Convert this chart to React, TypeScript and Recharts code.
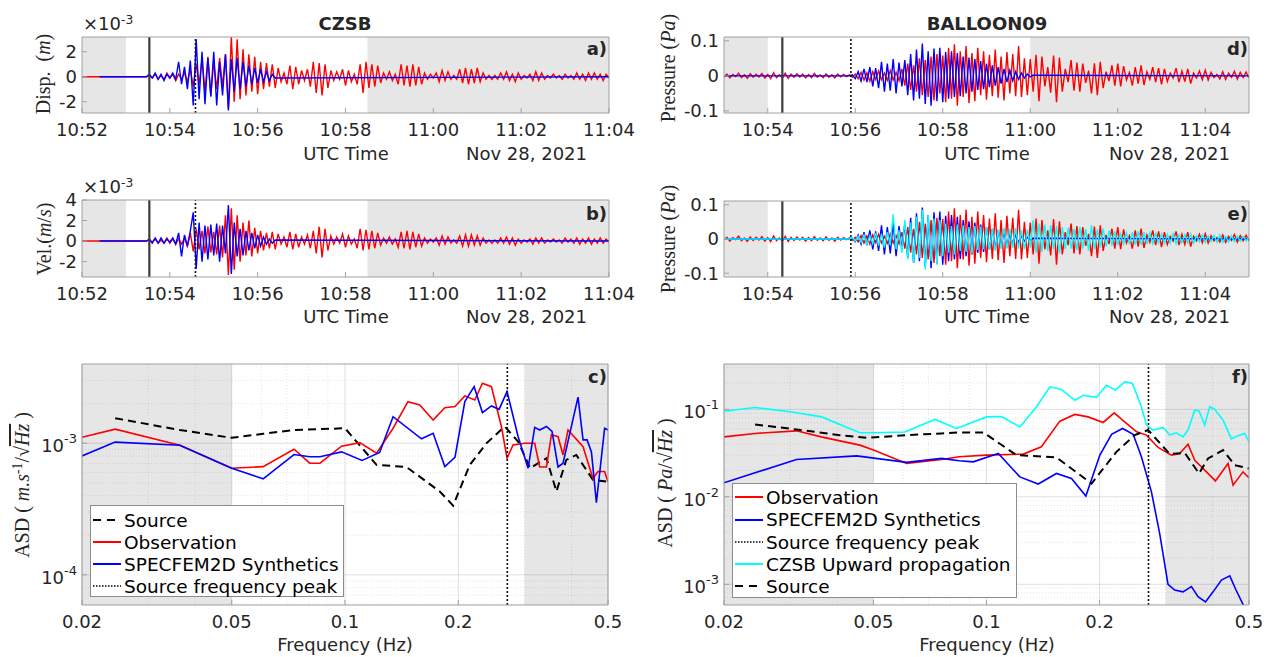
import React from "react";
import { LineChart, Line, XAxis, YAxis, ReferenceArea, ReferenceLine } from "recharts";

const SANS = "DejaVu Sans";
const SERIF = "Liberation Serif";
const INK = "#262626";
const EDGE = "#a0a0a0";
const SHADE = "#e6e6e6";
const RED = "#ff0000";
const BLUE = "#0000ff";
const CYAN = "#00ffff";

// ---------- waveforms: seconds after 10:52:00 UTC, one sample every 4 s ----------
const STEP = 4;

// CZSB displacement, units of 1e-4 m, first sample at t = 88 s
const czsbDispObs = [
  0, 1, -1, 2, -2, 1, -2, 3, -1, 2, -3, 2, -2, 3,
  -4, 6, -8, 10, -6,
  14, -12, 16, -15, 12, -10, 15, -8, 18,
  -25, 32, -20, 30, -18,
  22, -15, 18, -12, 16, -14, 12, -10, 11,
  -8, 10, -9, 7, -4, 3, -6, 9, -10, 8, -6,
  5, -3, 6, -8, 12, -13, 11, -15, 10, -9, 5,
  -3, 4, -2, 6, -7, 5, -4, 2, -6, 10, -13,
  12, -9, 10, -8, 9, -5, 3, -2, 4, -3, 2,
  -6, 10, -7, 9, -8, 10, -7, 8, -6, 3, -2,
  2, -1, 3, -4, 5, -3, 4, -2, 1, -2, 6,
  -5, 7, -6, 6, -5, 7, -4, 3, -2, 1, -2,
  1, -2, 3, -2, 4, -3, 2, -4, 3, -2, 1,
  -1, 2, -3, 4, -3, 3, -2, 1, -1, 2, -1,
  1, -2, 2, -1, 1, -2, 3, -2, 2, -3, 3,
  -2, 3, -2, 2, -3, 2, -1,
];
const czsbDispSyn = [
  0, 2, -1, 3, -2, 2, -3, 2, -1, 3, -2,
  12, -6, 8, -10, 13, -23,
  30, -18, 20, -22, 15, -16, 20, -23, 12, -15, 18,
  -27, 14, -12, 15, -10, 12, -8, 9, -6, 7, -5,
  6, -4, 4, -3, 2, -1,
];

// CZSB velocity, units of 1e-4 m/s, first sample at t = 88 s
const czsbVelObs = [
  0, 1, -1, 2, -2, 1, -2, 3, -2, 2, -3, 2, -3, 3,
  -5, 8, -10, 12, -8,
  10, -12, 14, -11, 9, -13, 15, -16, 25,
  -33, 32, -28, 25, -20,
  18, -14, 20, -15, 13, -12, 10, -9, 8,
  -7, 9, -8, 7, -3, 4, -6, 9, -8, 7, -6,
  4, -3, 6, -7, 10, -12, 14, -16, 12, -9, 5,
  -3, 4, -2, 7, -6, 5, -3, 2, -7, 12, -9,
  11, -8, 10, -7, 8, -4, 3, -2, 4, -3, 2,
  -6, 9, -7, 10, -8, 9, -6, 7, -5, 3, -2,
  2, -1, 3, -4, 5, -3, 4, -2, 1, -2, 5,
  -5, 6, -5, 6, -4, 5, -4, 3, -2, 1, -2,
  1, -2, 3, -2, 4, -3, 3, -4, 2, -2, 1,
  -1, 2, -3, 3, -2, 3, -2, 1, -1, 2, -1,
  1, -2, 3, -1, 2, -2, 3, -3, 2, -2, 3,
  -3, 2, -2, 3, -2, 2, -1,
];
const czsbVelSyn = [
  0, 2, -2, 3, -2, 3, -2, 2, -1, 3, -3,
  8, -15, 6, -5, 10, 28,
  -27, 18, -20, 15, -18, 16, -14, 17, -20, 15, -12,
  35, -32, 18, -15, 12, -14, 10, -9, 8, -7, 6,
  -5, 4, -3, 2, -2, 1,
];

// BALLOON09 pressure, units of 1e-3 Pa
const balloonObs = [ // from t = 60 s
  -3, 5, -6, 4, -2, 8, -5, 3, -7, 6, -4, 5, -3, 7, -6, 4, -8, 9, -5, 3, -6, 8, -7,
  5, -4, 6, -3, 5, -6, 4, -5, 7, -4, 3, -5, 6, -4, 3, -6, 5, -3, 4, -2, 3, -4,
  5, -8, 10, -12, 9, -15, 12, -10, 14, -11, 8, -13, 15, -12, 10, -14,
  20, -28, 35, -40, 30, -45, 50, -55, 45, -60, 55, -70, 62, -50, 58,
  -75, 80, -65, 90, -85, 70, -60, 85, -78, 65, -72, 80, -55, 70, -68,
  60, -58, 75, -62, 55, -70, 68, -50, 62, -58, 85, -60, 50, -55, 48,
  -45, 60, -72, 55, -30, 25, -48, 58, -75, 52, -45, 20, -18, 45, -42,
  38, -45, 35, -20, 15, -50, 36, -55, 40, -35, 12, -15, 30, -28, 35,
  -30, 28, -12, 10, -28, 25, -22, 30, -26, 12, -10, 25, -18, 22, -24,
  20, -16, 8, -6, 22, -18, 14, -16, 20, -22, 8, -6, 14, -11, 16,
  -12, 10, -5, 4, -9, 12, -10, 8, -4, 13, -9, 10, -5, 11, -6,
];
const balloonSyn = [ // from t = 232 s
  0, 3, -8, 12, -15, 20, -18, 25, -30, 22, -35, 40, -45, 35, -42, 48, -50, 38,
  -30, 45, -55, 62, -70, 75, -65, 92, -80, 70, -85, 78, -72, 80, -75,
  68, -65, 70, -60, 65, -58, 55, -50, 52, -45, 48, -40, 42, -38, 35,
  -32, 30, -28, 25, -22, 20, -18, 16, -14, 12, -10, 8, -6, 5, -3, 2,
];
const balloonUp = [ // CZSB upward propagation, from t = 232 s
  0, 4, -6, 8, -10, 12, -15, 10, -14, 18, -20, 15, -25, 20, -18, 72, -30, 25,
  -40, 55, -60, 48, -70, 65, -55, 85, -90, 70, -65, 60, -75, 55, -50,
  45, -40, 38, -45, 42, -35, 40, -38, 35, -42, 38, -32, 36, -30, 34,
  -32, 30, -35, 28, -30, 33, -28, 30, -26, 32, -28, 25, -30, 28, -25,
  55, -40, 45, -38, 42, -35, 40, -30, 38, -42, 35, -30, 33, -28, 30,
  -32, 35, -28, 30, -35, 40, -30, 28, -25, 30, -22, 25, -20, 22, -18,
  15, -14, 18, -15, 20, -16, 22, -18, 20, -15, 18, -14, 16, -12, 15,
  -13, 14, -12, 16, -14, 12, -10, 13, -11, 15, -12, 10, -9, 12, -10,
  9, -8, 11, -9, 12, -10, 8, -9, 10, -8, 9, -7, 8, -6, 7,
];

// ---------- amplitude spectral densities ----------
const czsbObsF = [0.02, 0.0245, 0.0364, 0.05, 0.0606, 0.0732, 0.0806, 0.0858, 0.0979, 0.1095, 0.1213, 0.1342, 0.147, 0.158, 0.1715, 0.1842, 0.196, 0.2082, 0.2213, 0.2319, 0.245, 0.2604, 0.2696, 0.2797, 0.3004, 0.3193, 0.3292, 0.3431, 0.3537, 0.3683, 0.3797, 0.3915, 0.4292, 0.456, 0.4703, 0.4898, 0.5];
const czsbObsA = [1.11e-3, 1.28e-3, 0.966e-3, 6.46e-4, 6.64e-4, 9.0e-4, 7.05e-4, 7.05e-4, 9.5e-4, 1.01e-3, 8.4e-4, 1.3e-3, 2.07e-3, 1.95e-3, 1.5e-3, 1.86e-3, 1.9e-3, 2.29e-3, 2.13e-3, 2.86e-3, 2.69e-3, 1.34e-3, 7.7e-4, 9.7e-4, 1.0e-3, 1.0e-3, 6.6e-4, 6.6e-4, 1.16e-3, 1.12e-3, 8.15e-4, 1.26e-3, 9.4e-4, 5.4e-4, 6.1e-4, 6.1e-4, 5.1e-4];
const czsbSynF = [0.02, 0.0245, 0.0364, 0.05, 0.0606, 0.0732, 0.0806, 0.0858, 0.0979, 0.111, 0.1236, 0.1342, 0.1597, 0.1715, 0.1842, 0.196, 0.2082, 0.2204, 0.2319, 0.245, 0.2567, 0.2696, 0.2885, 0.3067, 0.3193, 0.3292, 0.3431, 0.355, 0.3683, 0.3797, 0.4162, 0.4292, 0.4399, 0.4518, 0.4657, 0.4898, 0.5];
const czsbSynA = [8.0e-4, 1.02e-3, 9.66e-4, 6.46e-4, 5.36e-4, 8.2e-4, 7.9e-4, 7.9e-4, 8.6e-4, 7.4e-4, 8.5e-4, 1.59e-3, 1.08e-3, 1.19e-3, 6.64e-4, 7.8e-4, 2.07e-3, 2.69e-3, 1.71e-3, 1.92e-3, 1.81e-3, 2.47e-3, 1.12e-3, 6.46e-4, 1.32e-3, 1.26e-3, 1.34e-3, 1.23e-3, 6.6e-4, 7.05e-4, 2.24e-3, 1.06e-3, 1.06e-3, 8.6e-4, 3.54e-4, 1.3e-3, 1.26e-3];
const czsbSrcF = [0.0245, 0.0364, 0.05, 0.0606, 0.0732, 0.0858, 0.1, 0.1213, 0.1457, 0.1786, 0.1938, 0.2146, 0.2377, 0.2659, 0.2885, 0.3105, 0.3431, 0.3647, 0.3873, 0.4119, 0.456, 0.5];
const czsbSrcA = [1.55e-3, 1.26e-3, 1.1e-3, 1.18e-3, 1.26e-3, 1.28e-3, 1.3e-3, 6.85e-4, 6.6e-4, 4.3e-4, 3.36e-4, 6.85e-4, 1.0e-3, 1.34e-3, 1.03e-3, 6.46e-4, 7.7e-4, 4.3e-4, 7.47e-4, 8.15e-4, 5.27e-4, 5.1e-4];

const balObsF = [0.02, 0.0242, 0.0312, 0.0363, 0.046, 0.05, 0.0613, 0.0759, 0.0846, 0.1, 0.1253, 0.14, 0.1568, 0.1719, 0.1865, 0.2045, 0.2188, 0.2333, 0.251, 0.2667, 0.2864, 0.3107, 0.3269, 0.3441, 0.3585, 0.3852, 0.407, 0.4398, 0.4535, 0.482, 0.5];
const balObsA = [0.0485, 0.053, 0.0568, 0.0485, 0.039, 0.0342, 0.0241, 0.0267, 0.0287, 0.03, 0.0308, 0.0373, 0.0733, 0.0875, 0.082, 0.0708, 0.0912, 0.072, 0.0553, 0.0508, 0.0367, 0.03, 0.0313, 0.04, 0.0262, 0.0193, 0.0152, 0.0241, 0.0136, 0.0193, 0.0165];
const balSynF = [0.02, 0.0312, 0.0451, 0.0613, 0.0759, 0.0846, 0.0922, 0.1075, 0.1227, 0.1373, 0.1536, 0.1684, 0.1839, 0.2004, 0.2153, 0.2303, 0.2458, 0.2585, 0.2749, 0.2892, 0.3043, 0.317, 0.3335, 0.3513, 0.3658, 0.383, 0.4011, 0.4223, 0.4444, 0.4618, 0.4819, 0.5];
const balSynA = [0.0145, 0.0267, 0.0294, 0.0248, 0.0275, 0.0258, 0.0251, 0.0313, 0.0169, 0.014, 0.0185, 0.0162, 0.0102, 0.03, 0.0517, 0.0605, 0.052, 0.0287, 0.0114, 0.0038, 0.001, 0.00086, 0.00082, 0.00094, 0.00072, 0.00063, 0.00082, 0.00112, 0.00125, 0.00086, 0.00059, 0.00042];
const balUpF = [0.02, 0.0242, 0.03, 0.0364, 0.046, 0.05, 0.0606, 0.0729, 0.0832, 0.1, 0.1097, 0.1227, 0.1359, 0.1475, 0.1584, 0.1719, 0.181, 0.1962, 0.2086, 0.2205, 0.2333, 0.2447, 0.2585, 0.2667, 0.2777, 0.2953, 0.3076, 0.3203, 0.3335, 0.3441, 0.3585, 0.3681, 0.3812, 0.393, 0.4053, 0.4265, 0.4489, 0.4675, 0.487, 0.5];
const balUpA = [0.095, 0.105, 0.094, 0.082, 0.054, 0.054, 0.055, 0.0767, 0.0605, 0.082, 0.083, 0.063, 0.107, 0.181, 0.169, 0.127, 0.145, 0.137, 0.189, 0.166, 0.206, 0.198, 0.107, 0.066, 0.058, 0.062, 0.051, 0.054, 0.0485, 0.058, 0.098, 0.096, 0.066, 0.107, 0.1, 0.075, 0.046, 0.05, 0.053, 0.0425];
const balSrcF = [0.0242, 0.0312, 0.0407, 0.048, 0.0613, 0.0759, 0.0846, 0.098, 0.1202, 0.1536, 0.1905, 0.2218, 0.2482, 0.2694, 0.3076, 0.3372, 0.3681, 0.389, 0.4265, 0.458, 0.5];
const balSrcA = [0.0672, 0.0589, 0.0507, 0.0472, 0.0507, 0.053, 0.0545, 0.0545, 0.03, 0.0282, 0.0142, 0.0327, 0.0508, 0.058, 0.0308, 0.0318, 0.0185, 0.0275, 0.0342, 0.023, 0.0211];

// ---------- axes ----------
const CZSB_TICKS = [0, 120, 240, 360, 480, 600, 720];
const BAL_TICKS = [120, 240, 360, 480, 600, 720];
const FREQ_TICKS = [0.02, 0.05, 0.1, 0.2, 0.5];
const FREQ_MINOR = [0.03, 0.04, 0.06, 0.07, 0.08, 0.09, 0.3, 0.4];
const C_MINOR = [6e-5, 7e-5, 8e-5, 9e-5, 2e-4, 3e-4, 4e-4, 5e-4, 6e-4, 7e-4, 8e-4, 9e-4, 2e-3, 3e-3];
const F_MINOR = [6e-4, 7e-4, 8e-4, 9e-4, 2e-3, 3e-3, 4e-3, 5e-3, 6e-3, 7e-3, 8e-3, 9e-3, 0.02, 0.03, 0.04, 0.05, 0.06, 0.07, 0.08, 0.09, 0.2, 0.3];

const clock = (s: number) => {
  const m = 52 + s / 60;
  return `${10 + Math.floor(m / 60)}:${String(m % 60).padStart(2, "0")}`;
};

const wave = (start: number, vals: number[], unit: number, lead?: number, tail?: number) => {
  const pts = vals.map((v, i) => ({ t: start + i * STEP, v: v * unit }));
  if (lead !== undefined) pts.unshift({ t: lead, v: 0 });
  if (tail !== undefined) pts.push({ t: tail, v: 0 });
  return pts;
};
const spec = (f: number[], a: number[]) => f.map((x, i) => ({ f: x, v: a[i] }));

const TICK = { fontSize: 18, fill: INK, fontFamily: SANS };
const YW = 80, MT = 10, MR = 30, XH = 60;

type Box = { x: number; y: number; w: number; h: number };
type Ax = { key?: string; log?: boolean; domain: [number, number]; ticks: number[]; fmt?: (v: number) => string; tick?: any };

function PowTick(props: any) {
  const { x, y, payload } = props;
  const e = Math.round(Math.log10(payload.value));
  return (
    <text x={x} y={y} dy={9} textAnchor="end" fill={INK} fontFamily={SANS} fontSize={18}>
      10<tspan dy={-9} fontSize={13}>{e}</tspan>
    </text>
  );
}

function Frame({ box, xa, ya, children }: { box: Box; xa: Ax; ya: Ax; children?: React.ReactNode }) {
  const xs = xa.log ? "log" : "linear";
  const ys = ya.log ? "log" : "linear";
  return (
    <div style={{ position: "absolute", left: box.x - YW, top: box.y - MT }}>
      <LineChart width={YW + box.w + MR} height={MT + box.h + XH} margin={{ top: MT - 1, right: MR - 1, bottom: 0, left: 0 }}>
        <XAxis dataKey={xa.key} type="number" scale={xs} domain={xa.domain} allowDataOverflow ticks={xa.ticks} interval={0}
          tickFormatter={xa.fmt} tick={TICK} tickSize={-5} tickMargin={15} height={XH} stroke={EDGE} />
        <XAxis xAxisId="top" orientation="top" dataKey={xa.key} type="number" scale={xs} domain={xa.domain} allowDataOverflow
          ticks={xa.ticks} interval={0} tick={false} tickSize={-5} height={1} stroke={EDGE} />
        <YAxis type="number" scale={ys} domain={ya.domain} allowDataOverflow ticks={ya.ticks} interval={0}
          tickFormatter={ya.fmt} tick={ya.tick ?? TICK} tickSize={-5} tickMargin={10} width={YW} stroke={EDGE} />
        <YAxis yAxisId="right" orientation="right" type="number" scale={ys} domain={ya.domain} allowDataOverflow
          ticks={ya.ticks} interval={0} tick={false} tickSize={-5} width={1} stroke={EDGE} />
        {children}
      </LineChart>
    </div>
  );
}

const trace = (data: any[], color: string, key: string, w = 1.4) => (
  <Line key={key} data={data} dataKey="v" stroke={color} strokeWidth={w} dot={false} activeDot={false} isAnimationActive={false} />
);
const shade = (a: number, b: number) => (
  <ReferenceArea key={`s${a}`} x1={a} x2={b} fill={SHADE} fillOpacity={1} stroke="none" />
);
const eventLine = (x: number) => <ReferenceLine key={`e${x}`} x={x} stroke="#3c3c3c" strokeWidth={2.2} />;
const peakLine = (x: number) => <ReferenceLine key={`p${x}`} x={x} stroke="#111" strokeWidth={1.6} strokeDasharray="2 2" />;
const grid = (xs: number[], ys: number[], major: boolean) => [
  ...xs.map((v) => <ReferenceLine key={`gx${v}${major}`} x={v} stroke={INK} strokeOpacity={major ? 0.14 : 0.12} strokeDasharray={major ? undefined : "1 2"} />),
  ...ys.map((v) => <ReferenceLine key={`gy${v}${major}`} y={v} stroke={INK} strokeOpacity={major ? 0.14 : 0.12} strokeDasharray={major ? undefined : "1 2"} />),
];

function T({ x, y, a = "c", s = 18, bold, serif, rot, color = INK, children }: any) {
  const tx = a === "c" ? "-50%" : a === "r" ? "-100%" : "0";
  return (
    <div style={{
      position: "absolute", left: x, top: y, whiteSpace: "nowrap", lineHeight: 1,
      transform: `translate(${tx},-50%)${rot ? " rotate(-90deg)" : ""}`,
      fontFamily: serif ? SERIF : SANS, fontSize: s, fontWeight: bold ? "bold" : "normal", color,
    }}>{children}</div>
  );
}
const Sup = ({ children }: any) => <span style={{ fontSize: "0.68em", position: "relative", top: "-0.5em" }}>{children}</span>;
const SqrtHz = () => <span>√<span style={{ textDecoration: "overline" }}><i>Hz</i></span></span>;

type Item = { label: string; color: string; dash?: string; w?: number; cy: number };
function LegendBox({ x, y, w, h, items }: { x: number; y: number; w: number; h: number; items: Item[] }) {
  return (
    <div style={{ position: "absolute", left: x, top: y, width: w, height: h, background: "#fff", border: "1px solid #8c8c8c", boxSizing: "border-box", fontFamily: SANS, fontSize: 18.5, color: "#000" }}>
      {items.map((it) => (
        <div key={it.label} style={{ position: "absolute", left: 2, top: it.cy - 11, height: 22, display: "flex", alignItems: "center", whiteSpace: "nowrap" }}>
          <svg width={28} height={6}><line x1={0} y1={3} x2={28} y2={3} stroke={it.color} strokeWidth={it.w ?? 2} strokeDasharray={it.dash} /></svg>
          <span style={{ marginLeft: 3 }}>{it.label}</span>
        </div>
      ))}
    </div>
  );
}

export default function App() {
  const aObs = wave(88, czsbDispObs, 0.1, 0);
  const aSyn = wave(88, czsbDispSyn, 0.1, 24, 720);
  const bObs = wave(88, czsbVelObs, 0.1, 0);
  const bSyn = wave(88, czsbVelSyn, 0.1, 24, 720);
  const dObs = wave(60, balloonObs, 0.001);
  const dSyn = wave(232, balloonSyn, 0.001, 60, 780);
  const eUp = wave(232, balloonUp, 0.001, 60);

  const czsbX: Ax = { key: "t", domain: [0, 720], ticks: CZSB_TICKS, fmt: clock };
  const balX: Ax = { key: "t", domain: [60, 780], ticks: BAL_TICKS, fmt: clock };
  const freqX: Ax = { key: "f", log: true, domain: [0.02, 0.5], ticks: FREQ_TICKS, fmt: (v) => String(v) };
  const num = (v: number) => String(v);

  return (
    <div style={{ position: "absolute", left: 0, top: 0, width: 1270, height: 657, background: "#fff", overflow: "hidden" }}>
      <Frame box={{ x: 82, y: 37, w: 527, h: 76 }} xa={czsbX} ya={{ domain: [-2.9, 3.18], ticks: [-2, 0, 2], fmt: num }}>
        {shade(0, 60)}{shade(390, 720)}
        {trace(aObs, RED, "r")}{trace(aSyn, BLUE, "b")}
        {eventLine(92)}{peakLine(155)}
      </Frame>
      <Frame box={{ x: 82, y: 200, w: 527, h: 77 }} xa={czsbX} ya={{ domain: [-3.5, 4], ticks: [-2, 0, 2, 4], fmt: num }}>
        {shade(0, 60)}{shade(390, 720)}
        {trace(bObs, RED, "r")}{trace(bSyn, BLUE, "b")}
        {eventLine(92)}{peakLine(155)}
      </Frame>
      <Frame box={{ x: 82, y: 364, w: 526, h: 241 }} xa={freqX} ya={{ log: true, domain: [5.9e-5, 4e-3], ticks: [1e-4, 1e-3], tick: <PowTick /> }}>
        {shade(0.02, 0.05)}{shade(0.3, 0.5)}
        {grid(FREQ_MINOR, C_MINOR, false)}
        {grid(FREQ_TICKS, [1e-4, 1e-3], true)}
        <Line key="src" data={spec(czsbSrcF, czsbSrcA)} dataKey="v" stroke="#000" strokeWidth={2} strokeDasharray="8 5" dot={false} activeDot={false} isAnimationActive={false} />
        {trace(spec(czsbObsF, czsbObsA), RED, "o", 1.6)}
        {trace(spec(czsbSynF, czsbSynA), BLUE, "s", 1.6)}
        {peakLine(0.27)}
      </Frame>
      <Frame box={{ x: 724, y: 37, w: 525, h: 76 }} xa={balX} ya={{ domain: [-0.106, 0.111], ticks: [-0.1, 0, 0.1], fmt: num }}>
        {shade(60, 120)}{shade(480, 780)}
        {trace(dObs, RED, "r")}{trace(dSyn, BLUE, "b")}
        {eventLine(140)}{peakLine(234)}
      </Frame>
      <Frame box={{ x: 724, y: 201, w: 525, h: 76 }} xa={balX} ya={{ domain: [-0.111, 0.111], ticks: [-0.1, 0, 0.1], fmt: num }}>
        {shade(60, 120)}{shade(480, 780)}
        {trace(dObs, RED, "r")}{trace(dSyn, BLUE, "b")}{trace(eUp, CYAN, "c")}
        {eventLine(140)}{peakLine(234)}
      </Frame>
      <Frame box={{ x: 724, y: 364, w: 525, h: 241 }} xa={freqX} ya={{ log: true, domain: [5.8e-4, 0.33], ticks: [1e-3, 1e-2, 1e-1], tick: <PowTick /> }}>
        {shade(0.02, 0.05)}{shade(0.3, 0.5)}
        {grid(FREQ_MINOR, F_MINOR, false)}
        {grid(FREQ_TICKS, [1e-3, 1e-2, 1e-1], true)}
        {trace(spec(balObsF, balObsA), RED, "o", 1.6)}
        {trace(spec(balSynF, balSynA), BLUE, "s", 1.6)}
        {peakLine(0.27)}
        {trace(spec(balUpF, balUpA), CYAN, "u", 1.6)}
        <Line key="src" data={spec(balSrcF, balSrcA)} dataKey="v" stroke="#000" strokeWidth={2} strokeDasharray="8 5" dot={false} activeDot={false} isAnimationActive={false} />
      </Frame>

      {/* titles and annotations */}
      <T x={345} y={24} bold>CZSB</T>
      <T x={987} y={24} bold>BALLOON09</T>
      <T x={83} y={24} a="l">×10<Sup>-3</Sup></T>
      <T x={83} y={187} a="l">×10<Sup>-3</Sup></T>
      <T x={607} y={49} a="r" bold>a)</T>
      <T x={607} y={214} a="r" bold>b)</T>
      <T x={607} y={377} a="r" bold>c)</T>
      <T x={1248} y={49} a="r" bold>d)</T>
      <T x={1248} y={214} a="r" bold>e)</T>
      <T x={1248} y={377} a="r" bold>f)</T>

      <T x={346} y={154}>UTC Time</T>
      <T x={587} y={154} a="r">Nov 28, 2021</T>
      <T x={346} y={317}>UTC Time</T>
      <T x={587} y={317} a="r">Nov 28, 2021</T>
      <T x={987} y={154}>UTC Time</T>
      <T x={1230} y={154} a="r">Nov 28, 2021</T>
      <T x={987} y={317}>UTC Time</T>
      <T x={1230} y={317} a="r">Nov 28, 2021</T>
      <T x={345} y={645}>Frequency (Hz)</T>
      <T x={987} y={645}>Frequency (Hz)</T>

      <T x={43} y={74} rot serif s={20}>Disp.&nbsp; (<i>m</i>)</T>
      <T x={44} y={239} rot serif s={20}>Vel.(<i>m</i>/<i>s</i>)</T>
      <T x={22} y={485} rot serif s={20}>ASD (&nbsp;<i>m.s</i><Sup>-1</Sup>/<SqrtHz />&nbsp;)</T>
      <T x={668} y={68} rot serif s={20}>Pressure (<i>Pa</i>)</T>
      <T x={668} y={239} rot serif s={20}>Pressure (<i>Pa</i>)</T>
      <T x={665} y={483} rot serif s={20}>ASD (&nbsp;<i>Pa</i>/<SqrtHz />&nbsp;)</T>

      <LegendBox x={90} y={505} w={254} h={92} items={[
        { label: "Source", color: "#000", dash: "8 6", cy: 14 },
        { label: "Observation", color: RED, cy: 36 },
        { label: "SPECFEM2D Synthetics", color: BLUE, cy: 58 },
        { label: "Source frequency peak", color: "#000", dash: "1.5 1.5", w: 1.5, cy: 80 },
      ]} />
      <LegendBox x={732} y={483} w={285} h={115} items={[
        { label: "Observation", color: RED, cy: 13 },
        { label: "SPECFEM2D Synthetics", color: BLUE, cy: 35.5 },
        { label: "Source frequency peak", color: "#000", dash: "1.5 1.5", w: 1.5, cy: 58 },
        { label: "CZSB Upward propagation", color: CYAN, cy: 80 },
        { label: "Source", color: "#000", dash: "8 6", cy: 102 },
      ]} />
    </div>
  );
}
